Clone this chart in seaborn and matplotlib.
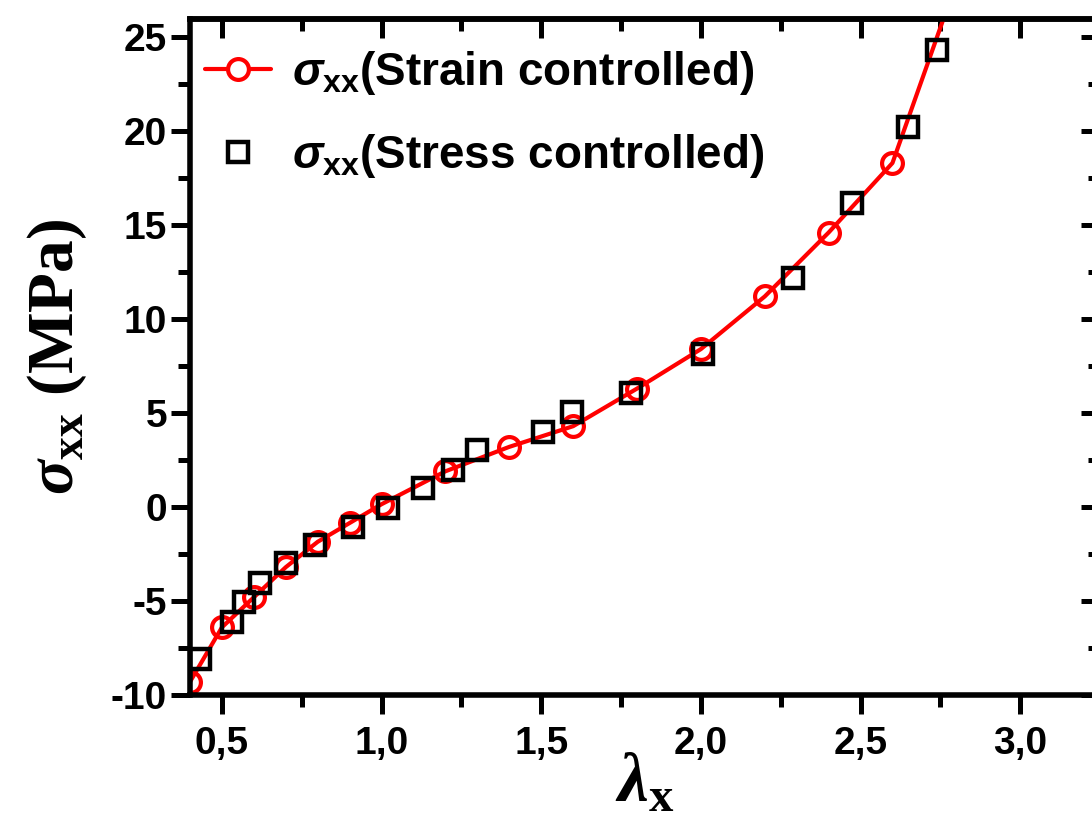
import matplotlib
matplotlib.use("Agg")
import matplotlib.pyplot as plt
import seaborn as sns
import numpy as np
import pandas as pd
from matplotlib.lines import Line2D
from matplotlib.ticker import MultipleLocator, FuncFormatter

# ---- data ----
strain_x = [0.4, 0.5, 0.6, 0.7, 0.8, 0.9, 1.0, 1.2, 1.4, 1.6, 1.8, 2.0, 2.2, 2.4, 2.6, 2.8]
strain_y = [-9.3, -6.4, -4.8, -3.2, -1.85, -0.85, 0.15, 1.9, 3.2, 4.3, 6.3, 8.4, 11.2, 14.6, 18.3, 27.9]

stress_x = [0.43, 0.53, 0.57, 0.62, 0.70, 0.79, 0.91, 1.02, 1.13, 1.225, 1.30, 1.505, 1.595,
            1.78, 2.008, 2.29, 2.473, 2.648, 2.738]
stress_y = [-8.1, -6.1, -5.05, -4.05, -3.0, -2.0, -1.05, -0.07, 0.99, 1.97, 3.03, 4.0, 5.07,
            6.07, 8.15, 12.16, 16.15, 20.23, 24.3]

x_ticks = [0.5, 1.0, 1.5, 2.0, 2.5, 3.0]
y_ticks = [-10, -5, 0, 5, 10, 15, 20, 25]

label_strain = r'$\sigma_{\mathbf{xx}}$(Strain controlled)'
label_stress = r'$\sigma_{\mathbf{xx}}$(Stress controlled)'

sns.set_style("ticks")
plt.rcParams['font.family'] = ['Liberation Sans', 'DejaVu Sans']
plt.rcParams['font.weight'] = 'bold'
for k in ['text.color', 'axes.labelcolor', 'xtick.color', 'ytick.color', 'axes.edgecolor']:
    plt.rcParams[k] = 'black'
plt.rcParams['mathtext.fontset'] = 'custom'
plt.rcParams['mathtext.it'] = 'Liberation Sans:italic'
plt.rcParams['mathtext.bf'] = 'Liberation Sans:bold'
plt.rcParams['mathtext.tt'] = 'Liberation Serif:bold'
plt.rcParams['mathtext.bfit'] = 'Liberation Serif:bold:italic'

fig = plt.figure(figsize=(10.92, 8.33), dpi=100)
W, H = 1092, 833
left_px, right_px, top_px, bot_px = 190, 1100, 19, 695
ax = fig.add_axes([left_px / W, 1 - bot_px / H, (right_px - left_px) / W, (bot_px - top_px) / H])

df_strain = pd.DataFrame({"x": strain_x, "y": strain_y})
df_stress = pd.DataFrame({"x": stress_x, "y": stress_y})

sns.lineplot(data=df_strain, x="x", y="y", ax=ax, color="red", lw=3, sort=False,
             marker="o", markersize=15, markerfacecolor="none",
             markeredgecolor="red", markeredgewidth=3, zorder=2)
sns.lineplot(data=df_stress, x="x", y="y", ax=ax, color="black", linestyle="", sort=False,
             marker="s", markersize=14, markerfacecolor="none",
             markeredgecolor="black", markeredgewidth=3.2, zorder=3)

ax.set_xlim(0.4, 3.25)
ax.set_ylim(-10, 25.96)

ax.set_xticks(x_ticks)
ax.set_yticks(y_ticks)
ax.xaxis.set_minor_locator(MultipleLocator(0.25))
ax.yaxis.set_minor_locator(MultipleLocator(2.5))
ax.xaxis.set_major_formatter(FuncFormatter(lambda v, p: f"{v:.1f}".replace(".", ",")))
ax.yaxis.set_major_formatter(FuncFormatter(lambda v, p: f"{v:.0f}"))

ax.tick_params(which="major", direction="out", length=13.5, width=3.6, labelsize=28, color="black",
               labelcolor="black")
ax.tick_params(which="minor", direction="out", length=8.5, width=3.6, color="black")
ax.tick_params(axis="x", which="major", pad=9)
ax.tick_params(axis="y", which="major", pad=3)
for lab in ax.get_xticklabels() + ax.get_yticklabels():
    lab.set_fontweight("bold")

for s in ax.spines.values():
    s.set_linewidth(4)
    s.set_color("black")

secx = ax.secondary_xaxis("top")
secx.set_xticks(x_ticks)
secx.xaxis.set_minor_locator(MultipleLocator(0.25))
secx.tick_params(which="major", direction="in", length=13.5, width=3.6, labeltop=False, color="black")
secx.tick_params(which="minor", direction="in", length=8.5, width=3.6, color="black")
secx.spines["top"].set_linewidth(4)
secx.spines["top"].set_color("black")

secy = ax.secondary_yaxis("right")
secy.set_yticks(y_ticks)
secy.yaxis.set_minor_locator(MultipleLocator(2.5))
secy.tick_params(which="major", direction="in", length=13.5, width=3.6, labelright=False, color="black")
secy.tick_params(which="minor", direction="in", length=8.5, width=3.6, color="black")
secy.spines["right"].set_linewidth(4)
secy.spines["right"].set_color("black")

ax.set_xlabel(r'$\mathbfit{\lambda}_{\mathtt{x}}$', fontsize=50, labelpad=-8, color="black")
ax.set_ylabel(r'$\mathbfit{\sigma}_{\mathtt{xx}}$ (MPa)', fontsize=47, color="black",
              fontfamily='Liberation Serif', fontweight='bold', labelpad=16)

h1 = Line2D([], [], color="red", lw=3, marker="o", markersize=15,
            markerfacecolor="white", markeredgecolor="red", markeredgewidth=3)
h2 = Line2D([], [], color="black", linestyle="", marker="s", markersize=14,
            markerfacecolor="none", markeredgecolor="black", markeredgewidth=3.2)
leg = ax.legend([h1, h2], [label_strain, label_stress], loc="upper left",
                bbox_to_anchor=(0.016, 0.955), frameon=False, borderaxespad=0, borderpad=0,
                handlelength=1.45, handletextpad=0.45, labelspacing=0.75,
                prop={"family": "Liberation Sans", "weight": "bold", "size": 33})
for t in leg.get_texts():
    t.set_color("black")

fig.savefig("out.png", dpi=100)
